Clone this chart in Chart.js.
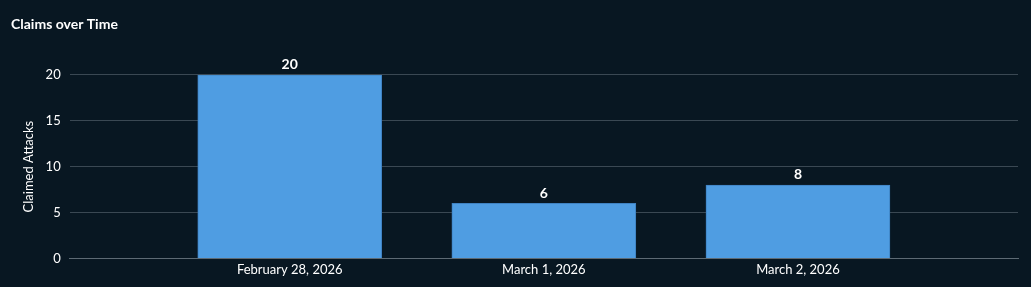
<!DOCTYPE html>
<html>
<head>
<meta charset="utf-8">
<script src="https://cdn.jsdelivr.net/npm/chart.js@4"></script>
<style>
  html, body { margin: 0; padding: 0; background: #081722; }
  #wrap { width: 1031px; height: 287px; }
</style>
</head>
<body>
<div id="wrap"><canvas id="myChart"></canvas></div>
<script>
// Chart data
const categories = ['February 28, 2026', 'March 1, 2026', 'March 2, 2026'];
const claims = [20, 6, 8];
const yTicks = [0, 5, 10, 15, 20];

// draws the value above each bar
const barValueLabels = {
    id: 'barValueLabels',
    afterDatasetsDraw(chart) {
        const ctx = chart.ctx;
        const meta = chart.getDatasetMeta(0);
        ctx.save();
        ctx.font = 'bold 14px Lato';
        ctx.fillStyle = '#ffffff';
        ctx.textAlign = 'center';
        ctx.textBaseline = 'bottom';
        meta.data.forEach((bar, i) => {
            ctx.fillText(String(claims[i]), bar.x, bar.y - 3);
        });
        ctx.restore();
    }
};

const data = {
    datasets: [{
        label: 'Claimed Attacks',
        data: claims.map((v, i) => ({ x: i, y: v })),
        backgroundColor: '#4f9de2',
        borderColor: '#3f82c2',
        borderWidth: 1,
        borderSkipped: 'bottom',
        barThickness: 184,
    }],
};

const config = {
    type: 'bar',
    data: data,
    options: {
        responsive: true,
        maintainAspectRatio: false,
        animation: false,
        layout: {
            padding: { left: 11, right: 13, top: 0, bottom: 5 }
        },
        plugins: {
            legend: { display: false },
            tooltip: { enabled: false },
            title: {
                display: true,
                text: 'Claims over Time',
                align: 'start',
                color: '#ffffff',
                font: { family: 'Lato', size: 14, weight: 'bold' },
                padding: { top: 16, bottom: 42 },
            },
        },
        scales: {
            x: {
                type: 'linear',
                offset: false,
                min: -0.866,
                max: 2.866,
                afterBuildTicks: (axis) => {
                    axis.ticks = categories.map((c, i) => ({ value: i }));
                },
                grid: { display: false, drawTicks: false, offset: false },
                border: { display: true, color: '#5d6a74', width: 1 },
                ticks: {
                    color: '#ffffff',
                    font: { family: 'Lato', size: 13 },
                    padding: 4,
                    maxRotation: 0,
                    callback: (v) => categories[v],
                },
            },
            y: {
                min: 0,
                max: 20,
                afterBuildTicks: (axis) => {
                    axis.ticks = yTicks.map(v => ({ value: v }));
                },
                grid: { color: '#3a4853', drawTicks: false },
                border: { display: false },
                ticks: {
                    color: '#ffffff',
                    font: { family: 'Lato', size: 13 },
                    padding: 9,
                },
                title: {
                    display: true,
                    text: 'Claimed Attacks',
                    color: '#ffffff',
                    font: { family: 'Lato', size: 13 },
                    padding: { top: 10, bottom: 0 },
                },
            },
        },
    },
    plugins: [barValueLabels],
};

const ctx = document.getElementById('myChart').getContext('2d');
const myChart = new Chart(ctx, config);
</script>
</body>
</html>
